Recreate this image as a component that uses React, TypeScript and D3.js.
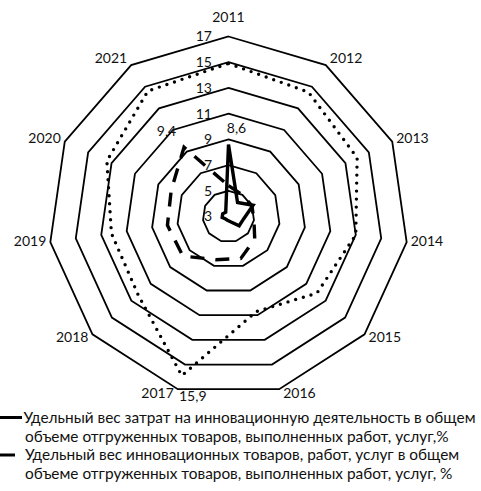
import React, { useEffect, useRef } from "react";
import * as d3 from "d3";

// годы по осям радара
const years = ["2011", "2012", "2013", "2014", "2015", "2016", "2017", "2018", "2019", "2020", "2021"];

// сплошная линия
const costShare = [8.6, 4.3, 5.1, 4.2, 4.1, 3.4, 3.3, 3.3, 3.5, 3.5, 3.4];
// пунктир (длинные штрихи)
const innovShare = [5.4, 5.0, 5.0, 5.0, 5.7, 6.4, 6.5, 7.7, 7.8, 7.9, 9.4];
// точки
const activityLevel = [14.9, 14.5, 14.0, 13.0, 12.1, 10.7, 15.9, 12.3, 12.2, 13.4, 14.6];

const ringValues = [5, 7, 9, 11, 13, 15, 17];
const tickValues = [3, 5, 7, 9, 11, 13, 15, 17];

const legendText = [
  ["Удельный вес затрат на инновационную деятельность в общем", "объеме отгруженных товаров, выполненных работ, услуг,%"],
  ["Удельный вес инновационных товаров, работ, услуг в общем", "объеме отгруженных товаров, выполненных работ, услуг, %"],
];

const RadarChart = () => {
  const ref = useRef<SVGSVGElement | null>(null);

  useEffect(() => {
    const width = 481;
    const height = 491;
    const cx = 228.5;
    const cy = 216.5;
    const radius = 180;
    const font = "Lato, 'Open Sans', sans-serif";

    const svg = d3.select(ref.current);
    svg.selectAll("*").remove();
    svg.attr("width", width).attr("height", height);

    const r = d3.scaleLinear().domain([3, 17]).range([0, radius]);
    const step = (2 * Math.PI) / years.length;
    const angle = (i: number) => i * step;
    const pt = (i: number, v: number) => [cx + r(v) * Math.sin(angle(i)), cy - r(v) * Math.cos(angle(i))];

    const fmt = d3.formatLocale({ decimal: ",", thousands: " ", grouping: [3], currency: ["", ""] }).format(".1f");

    const g = svg.append("g").attr("transform", `translate(${cx},${cy})`);

    const radial = d3
      .lineRadial<number>()
      .angle((_, i) => angle(i))
      .radius((d) => r(d))
      .curve(d3.curveLinearClosed);

    // кольца сетки
    g.selectAll("path.ring")
      .data(ringValues)
      .join("path")
      .attr("class", "ring")
      .attr("d", (v) => radial(years.map(() => v)))
      .attr("fill", "none")
      .attr("stroke", "#000")
      .attr("stroke-width", 1.8);

    // подписи шкалы
    svg
      .append("g")
      .selectAll("text")
      .data(tickValues)
      .join("text")
      .attr("x", cx - 16.5)
      .attr("y", (v) => cy - r(v))
      .attr("dy", "0.35em")
      .attr("text-anchor", "end")
      .style("font", `14px ${font}`)
      .attr("fill", "#111")
      .text((v) => v);

    // подписи годов
    svg
      .append("g")
      .selectAll("text")
      .data(years)
      .join("text")
      .each(function (d, i) {
        const s = Math.sin(angle(i));
        const c = Math.cos(angle(i));
        const [vx, vy] = pt(i, 17);
        const t = d3.select(this);
        if (Math.abs(s) < 0.01) {
          t.attr("x", vx).attr("y", vy - 19.5).attr("text-anchor", "middle");
        } else {
          t.attr("x", vx + (s > 0 ? 4 : -4))
            .attr("y", vy - c * 6 - 1.5)
            .attr("text-anchor", s > 0 ? "start" : "end");
        }
      })
      .attr("dy", "0.35em")
      .style("font", `14px ${font}`)
      .attr("fill", "#111")
      .text((d) => d);

    const series = [
      { values: costShare, dash: null, cap: "butt", w: 3.4 },
      { values: innovShare, dash: "14 11", cap: "butt", w: 3.4 },
      { values: activityLevel, dash: "0 8", cap: "round", w: 3.4 },
    ];

    g.selectAll("path.series")
      .data(series)
      .join("path")
      .attr("class", "series")
      .attr("d", (s) => radial(s.values))
      .attr("fill", "none")
      .attr("stroke", "#000")
      .attr("stroke-width", (s) => s.w)
      .attr("stroke-linecap", (s) => s.cap)
      .attr("stroke-dasharray", (s) => s.dash);

    // подписи данных
    const dataLabels = [
      { values: costShare, i: 0, dx: 8, dy: -16 },
      { values: innovShare, i: 10, dx: -17.5, dy: -16.5 },
      { values: activityLevel, i: 6, dx: 11, dy: 20 },
    ];
    svg
      .append("g")
      .selectAll("text")
      .data(dataLabels)
      .join("text")
      .attr("x", (d) => pt(d.i, d.values[d.i])[0] + d.dx)
      .attr("y", (d) => pt(d.i, d.values[d.i])[1] + d.dy)
      .attr("dy", "0.35em")
      .attr("text-anchor", "middle")
      .style("font", `14px ${font}`)
      .attr("fill", "#111")
      .text((d) => fmt(d.values[d.i]));

    // легенда
    const legend = svg.append("g");
    const legendY = [417.5, 455];
    legendText.forEach((lines, k) => {
      const y = legendY[k];
      legend
        .append("line")
        .attr("x1", 0)
        .attr("x2", k === 0 ? 22 : 15)
        .attr("y1", y)
        .attr("y2", y)
        .attr("stroke", "#000")
        .attr("stroke-width", 3);
      lines.forEach((line, j) => {
        legend
          .append("text")
          .attr("x", k === 0 && j === 0 ? 23.5 : 25)
          .attr("y", y + j * 18.8)
          .attr("dy", "0.35em")
          .style("font", `15.4px ${font}`)
          .attr("fill", "#111")
          .text(line);
      });
    });
  }, []);

  return <svg ref={ref} style={{ position: "absolute", left: 0, top: 0, background: "#fff" }} />;
};

export default function App() {
  return <RadarChart />;
}
